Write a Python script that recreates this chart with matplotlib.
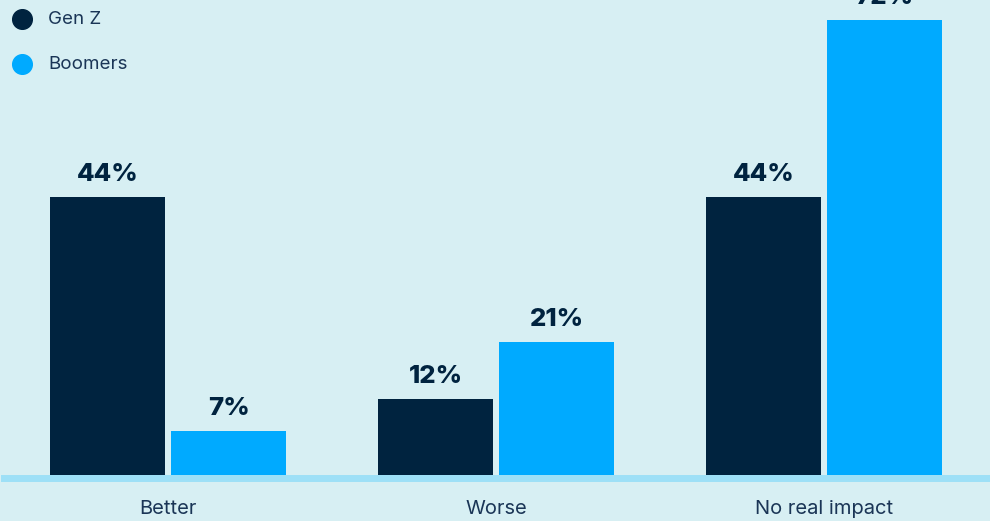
import numpy as np
import matplotlib.pyplot as plt

plt.rcParams['font.family'] = ['Inter', 'DejaVu Sans']

categories = ['Better', 'Worse', 'No real impact']
series_names = ['Gen Z', 'Boomers']
gen_z = [44, 12, 44]
boomers = [7, 21, 72]

navy = '#00233f'
blue = '#00aaff'
bg = '#d7eff3'
text_col = '#1a3556'

fig = plt.figure(figsize=(9.9, 5.21), dpi=100, facecolor=bg)
ax = fig.add_axes([0, 0, 1, 1], facecolor=bg)

x = np.arange(len(categories))
w = 0.3506
off = 0.1845

b1 = ax.bar(x - off, gen_z, w, color=navy, zorder=2)
b2 = ax.bar(x + off, boomers, w, color=blue, zorder=2)

for bars, vals in ((b1, gen_z), (b2, boomers)):
    for bar, v in zip(bars, vals):
        ax.annotate(f'{v}%', (bar.get_x() + bar.get_width() / 2, v),
                    xytext=(0, 8), textcoords='offset points',
                    ha='center', va='bottom', fontsize=18.5,
                    fontweight='heavy', color=navy)

# baseline
ax.axhline(-0.45, xmin=0.004, xmax=1, color='#9de0f7', lw=5, zorder=1)

for xi, name in zip(x, categories):
    ax.text(xi, -5.4, name, ha='center', va='center', fontsize=14.5,
            color=text_col)

ax.set_xlim(-0.5122, 2.506)
ax.set_ylim(-7.3, 75.2)
ax.axis('off')

# legend: dots and names in the top-left corner
for i, (name, col) in enumerate(zip(series_names, [navy, blue])):
    yy = 0.9635 - i * 0.0864
    ax.scatter([0.0222], [yy], s=200, color=col, transform=ax.transAxes,
               clip_on=False, zorder=3)
    ax.text(0.0485, yy, name, transform=ax.transAxes, ha='left',
            va='center', fontsize=13.5, color=text_col)

fig.savefig('out.png', dpi=100, facecolor=bg)
